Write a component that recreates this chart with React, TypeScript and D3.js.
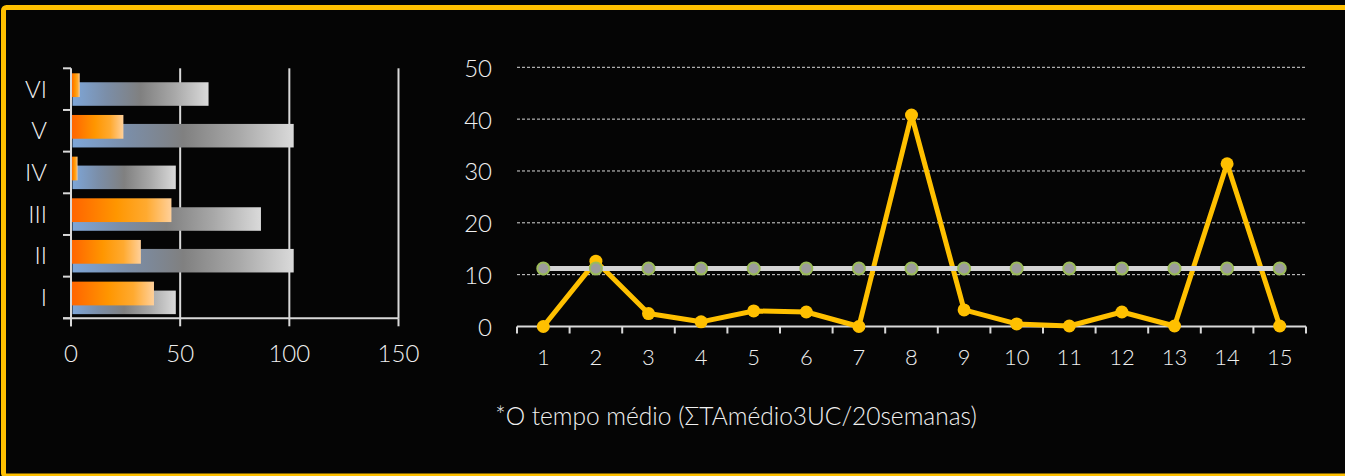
import React, { useRef, useEffect } from 'react';
import * as d3 from 'd3';

// left chart: categories I..VI, two overlapped bar series
const LEVELS = ["I", "II", "III", "IV", "V", "VI"];
const LEVEL_ORANGE = [38, 32, 46, 3, 24, 4];
const LEVEL_GRAY = [48, 102, 87, 48, 102, 63];
const LEVEL_TICKS = [0, 50, 100, 150];

// right chart: 15 weeks
const WEEKS = ["1", "2", "3", "4", "5", "6", "7", "8", "9", "10", "11", "12", "13", "14", "15"];
const WEEK_VALUES = [0, 12.6, 2.5, 0.9, 3.0, 2.8, 0, 40.8, 3.2, 0.5, 0.1, 2.8, 0.1, 31.4, 0.1];
const WEEK_AVERAGE = [11.2, 11.2, 11.2, 11.2, 11.2, 11.2, 11.2, 11.2, 11.2, 11.2, 11.2, 11.2, 11.2, 11.2, 11.2];
const WEEK_Y_TICKS = [0, 10, 20, 30, 40, 50];

const NOTE = "*O tempo médio (ΣTAmédio3UC/20semanas)";

const W = 1345;
const H = 476;
const FONT = "Lato, 'Open Sans', sans-serif";
const TEXT = "#f0f0f0";
const AXIS = "#d9d9d9";

const App: React.FC = () => {
    const svgRef = useRef<SVGSVGElement>(null);

    useEffect(() => {
        if (!svgRef.current) return;
        const svg = d3.select(svgRef.current);
        svg.selectAll("*").remove();

        svg.append("rect").attr("width", W).attr("height", H).attr("fill", "#050505");
        svg.append("rect")
            .attr("x", 3.5).attr("y", 7.5)
            .attr("width", W + 10).attr("height", 468.5)
            .attr("rx", 3)
            .attr("fill", "none")
            .attr("stroke", "#ffc000")
            .attr("stroke-width", 5);

        const defs = svg.append("defs");
        const gOrange = defs.append("linearGradient").attr("id", "gOrange").attr("x1", 0).attr("x2", 1).attr("y1", 0).attr("y2", 0);
        [[0, "#ff6400"], [0.45, "#ff9600"], [0.75, "#ffaa30"], [1, "#ffd09a"]].forEach(([o, c]) =>
            gOrange.append("stop").attr("offset", o as number).attr("stop-color", c as string));
        const gGray = defs.append("linearGradient").attr("id", "gGray").attr("x1", 0).attr("x2", 1).attr("y1", 0).attr("y2", 0);
        [[0, "#7ea6d8"], [0.25, "#7b8ea8"], [0.5, "#808080"], [0.75, "#a8a8a8"], [1, "#dadada"]].forEach(([o, c]) =>
            gGray.append("stop").attr("offset", o as number).attr("stop-color", c as string));

        const label = (sel: any, size: number) => sel
            .attr("fill", TEXT)
            .attr("dominant-baseline", "central")
            .style("font-family", FONT)
            .style("font-weight", 300)
            .style("font-size", size + "px");

        // ---------- left bar chart ----------
        const xL = d3.scaleLinear().domain([0, 150]).range([71, 398.5]);
        const yL = d3.scaleBand<string>().domain([...LEVELS].reverse()).range([68.3, 318.3]).padding(0);
        const bw = yL.bandwidth();
        const left = svg.append("g");

        left.selectAll("line.vgrid")
            .data(LEVEL_TICKS.slice(1))
            .join("line")
            .attr("x1", d => xL(d)).attr("x2", d => xL(d))
            .attr("y1", yL.range()[0]).attr("y2", yL.range()[1])
            .attr("stroke", AXIS).attr("stroke-width", 2);

        left.selectAll("rect.gray")
            .data(LEVELS)
            .join("rect")
            .attr("x", xL(0) + 1.5)
            .attr("y", d => (yL(d) as number) + bw * 0.335)
            .attr("width", (d, i) => xL(LEVEL_GRAY[i]) - xL(0) - 1.5)
            .attr("height", bw * 0.565)
            .attr("fill", "url(#gGray)");

        left.selectAll("rect.orange")
            .data(LEVELS)
            .join("rect")
            .attr("x", xL(0) + 0.5)
            .attr("y", d => (yL(d) as number) + bw * 0.12)
            .attr("width", (d, i) => xL(LEVEL_ORANGE[i]) - xL(0) - 0.5)
            .attr("height", bw * 0.57)
            .attr("fill", "url(#gOrange)");

        // y axis with ticks between categories
        left.append("line")
            .attr("x1", xL(0)).attr("x2", xL(0))
            .attr("y1", yL.range()[0]).attr("y2", yL.range()[1] + 8)
            .attr("stroke", AXIS).attr("stroke-width", 2);
        const bounds = [...yL.domain().map(d => yL(d) as number), yL.range()[1]];
        left.selectAll("line.ytick")
            .data(bounds)
            .join("line")
            .attr("x1", xL(0) - 8).attr("x2", xL(0))
            .attr("y1", d => d).attr("y2", d => d)
            .attr("stroke", AXIS).attr("stroke-width", 2);
        left.append("line")
            .attr("x1", xL(0) - 8).attr("x2", xL(150))
            .attr("y1", yL.range()[1]).attr("y2", yL.range()[1])
            .attr("stroke", AXIS).attr("stroke-width", 2);
        left.selectAll("line.xtick")
            .data(LEVEL_TICKS)
            .join("line")
            .attr("x1", d => xL(d)).attr("x2", d => xL(d))
            .attr("y1", yL.range()[1]).attr("y2", yL.range()[1] + 8)
            .attr("stroke", AXIS).attr("stroke-width", 2);

        left.selectAll("text.ylab")
            .data(LEVELS)
            .join("text")
            .attr("x", 47)
            .attr("y", d => (yL(d) as number) + bw / 2 - 1)
            .attr("text-anchor", "end")
            .call(label, 24)
            .text(d => d);

        left.selectAll("text.xlab")
            .data(LEVEL_TICKS)
            .join("text")
            .attr("x", d => xL(d))
            .attr("y", 352)
            .attr("text-anchor", "middle")
            .call(label, 24)
            .text(d => String(d));

        // ---------- right line chart ----------
        const xR = d3.scaleBand<string>().domain(WEEKS).range([517, 1306]).padding(0);
        const yR = d3.scaleLinear().domain([0, 50]).range([326.5, 67.3]);
        const cx = (d: string) => (xR(d) as number) + xR.bandwidth() / 2;
        const right = svg.append("g");

        right.selectAll("line.hgrid")
            .data(WEEK_Y_TICKS.slice(1))
            .join("line")
            .attr("x1", xR.range()[0]).attr("x2", xR.range()[1])
            .attr("y1", d => yR(d)).attr("y2", d => yR(d))
            .attr("stroke", AXIS).attr("stroke-width", 1)
            .attr("stroke-dasharray", "3,2");

        right.append("line")
            .attr("x1", xR.range()[0]).attr("x2", xR.range()[1])
            .attr("y1", yR(0)).attr("y2", yR(0))
            .attr("stroke", AXIS).attr("stroke-width", 2);
        const xb = [...WEEKS.map(d => xR(d) as number), xR.range()[1]];
        right.selectAll("line.xtick")
            .data(xb)
            .join("line")
            .attr("x1", d => d).attr("x2", d => d)
            .attr("y1", yR(0)).attr("y2", yR(0) + 7)
            .attr("stroke", AXIS).attr("stroke-width", 2);

        right.selectAll("text.ylab")
            .data(WEEK_Y_TICKS)
            .join("text")
            .attr("x", 492)
            .attr("y", d => yR(d))
            .attr("text-anchor", "end")
            .call(label, 24)
            .text(d => String(d));

        right.selectAll("text.xlab")
            .data(WEEKS)
            .join("text")
            .attr("x", d => cx(d))
            .attr("y", 356)
            .attr("text-anchor", "middle")
            .call(label, 22)
            .text(d => d);

        const line = d3.line<number>()
            .x((d, i) => cx(WEEKS[i]))
            .y(d => yR(d));

        right.append("path")
            .attr("d", line(WEEK_VALUES))
            .attr("fill", "none")
            .attr("stroke", "#ffc000")
            .attr("stroke-width", 5)
            .attr("stroke-linejoin", "round");
        right.selectAll("circle.val")
            .data(WEEK_VALUES)
            .join("circle")
            .attr("cx", (d, i) => cx(WEEKS[i]))
            .attr("cy", d => yR(d))
            .attr("r", 6.5)
            .attr("fill", "#ffc000");

        right.append("path")
            .attr("d", line(WEEK_AVERAGE))
            .attr("fill", "none")
            .attr("stroke", "#d4d4d4")
            .attr("stroke-width", 5);
        right.selectAll("circle.avg")
            .data(WEEK_AVERAGE)
            .join("circle")
            .attr("cx", (d, i) => cx(WEEKS[i]))
            .attr("cy", d => yR(d))
            .attr("r", 6)
            .attr("fill", "#9c9c9c")
            .attr("stroke", "#9bbb59")
            .attr("stroke-width", 2);

        svg.append("text")
            .attr("x", 736)
            .attr("y", 415)
            .attr("text-anchor", "middle")
            .call(label, 24.5)
            .text(NOTE);
    }, []);

    return (
        <div style={{ position: 'absolute', left: 0, top: 0, width: W, height: H }}>
            <svg ref={svgRef} width={W} height={H} style={{ display: 'block' }} />
        </div>
    );
};

export default App;
